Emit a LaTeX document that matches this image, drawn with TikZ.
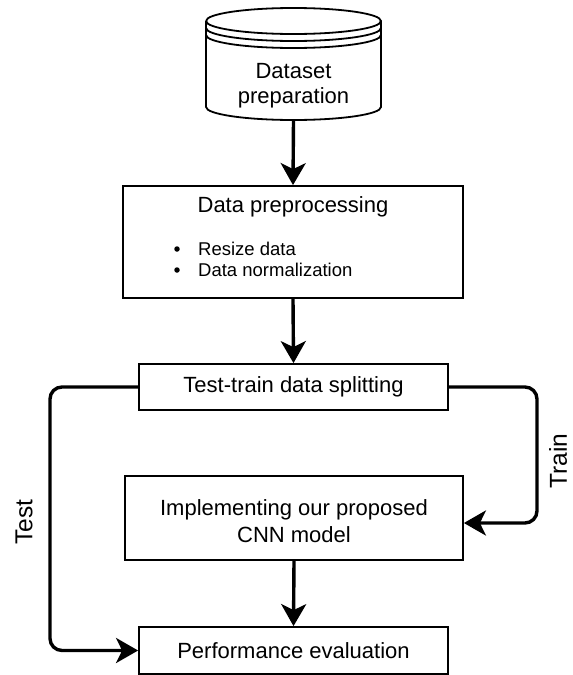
\documentclass[tikz,border=0pt]{standalone}
\usepackage{fontspec}
\setmainfont{Liberation Sans}
\usetikzlibrary{arrows.meta,calc}
\begin{document}
\begin{tikzpicture}[x=1pt,y=-1pt,
  box/.style={draw=black,line width=1.8pt,fill=white,inner sep=0pt,align=center,
    font=\fontsize{22}{27}\selectfont},
  conn/.style={line width=3.4pt,-{Stealth[length=22pt,width=25pt,inset=6pt]}},
  dot/.style={circle,fill=black,inner sep=0pt,minimum size=5.5pt},
  lbl/.style={font=\fontsize{24.5}{30}\selectfont,rotate=90,inner sep=0pt}]
\useasboundingbox (0,0) rectangle (573,675);
% cylinder (dataset)
\node[inner sep=0pt,minimum width=175pt,minimum height=112pt] (ds) at (293.5,64) {};
\draw[line width=1.8pt,fill=white]
  (206,21) -- (206,107) arc[start angle=180,end angle=360,x radius=87.5,y radius=-13] -- (381,21)
  arc[start angle=0,end angle=180,x radius=87.5,y radius=-13];
\draw[line width=1.8pt] (206,21) arc[start angle=180,end angle=360,x radius=87.5,y radius=-13];
\draw[line width=1.8pt] (206,28) arc[start angle=180,end angle=360,x radius=87.5,y radius=-13];
\draw[line width=1.8pt] (206,35) arc[start angle=180,end angle=360,x radius=87.5,y radius=-13];
\node[align=center,font=\fontsize{22}{25}\selectfont,inner sep=0pt] (dstext) at (293.5,85.5) {Dataset\\preparation};
% boxes
\node[box,minimum width=340pt,minimum height=112pt] (pre) at (293,242) {};
\node[font=\fontsize{22}{27}\selectfont,inner sep=0pt] (pretitle) at (293,207) {Data preprocessing};
\node[font=\fontsize{18.5}{21}\selectfont,inner sep=0pt,anchor=west] (b1) at (198,249) {Resize data};
\node[font=\fontsize{18.5}{21}\selectfont,inner sep=0pt,anchor=west] (b2) at (198,270) {Data normalization};
\node[dot] (d1) at (177,249) {};
\node[dot] (d2) at (177,270) {};
\node[box,minimum width=309pt,minimum height=46pt] (tt) at (293.5,387) {Test-train data splitting};
\node[box,minimum width=338pt,minimum height=84pt] (impl) at (294,518) {};
\node[align=center,font=\fontsize{22}{27}\selectfont,inner sep=0pt] (impltext) at (294,521.5) {Implementing our proposed\\CNN model};
\node[box,minimum width=309pt,minimum height=47pt] (perf) at (293.5,650.5) {Performance evaluation};
% connectors
\draw[conn] (ds.south) -- (pre.north);
\draw[conn] (pre.south) -- (tt.north);
\draw[conn] (impl.south) -- (perf.north);
\coordinate (tl) at (50,387);
\coordinate (tr) at (537,387);
\draw[conn,rounded corners=12pt] (tt.west) -- (tl) |- (perf.west);
\draw[conn,rounded corners=12pt] (tt.east) -- (tr) |- ([yshift=-5pt]impl.east);
% labels
\node[lbl] (testlbl) at (24,522) {Test};
\node[lbl] (trainlbl) at (558,461) {Train};
\end{tikzpicture}
\end{document}
